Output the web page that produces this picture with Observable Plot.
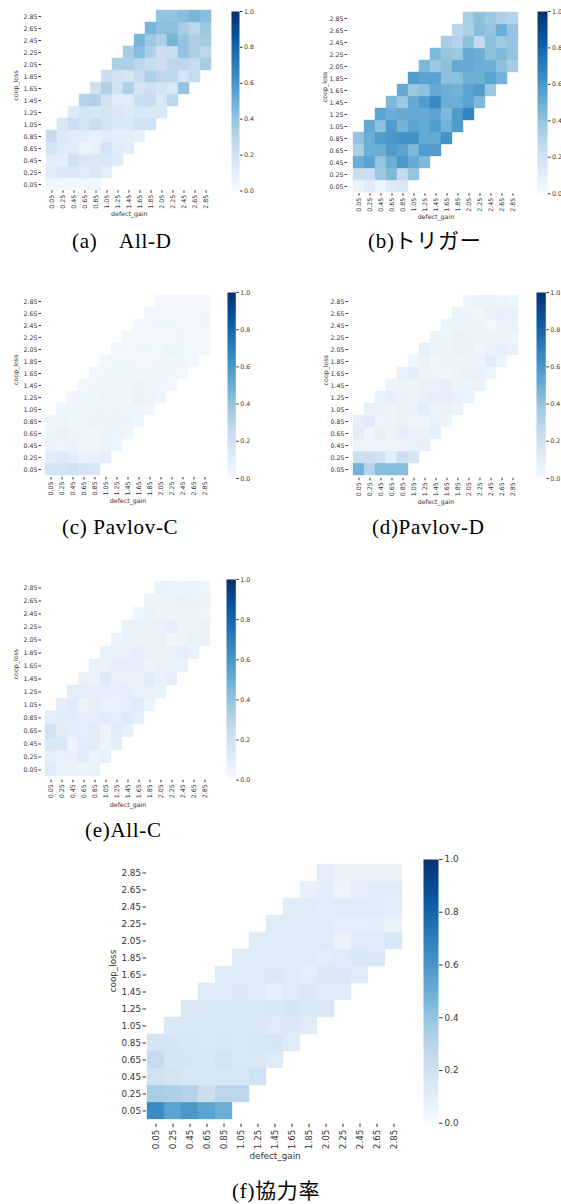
<!DOCTYPE html>
<html><head><meta charset="utf-8">
<script src="https://cdn.jsdelivr.net/npm/d3@7"></script>
<script src="https://cdn.jsdelivr.net/npm/@observablehq/plot@0.6"></script>
<style>
body{margin:0;background:#fff;}
#root{position:relative;width:561px;height:1204px;overflow:hidden;background:#fff;}
.abs{position:absolute;}
.cap{position:absolute;font-family:"Liberation Serif","Noto Sans CJK JP",serif;font-size:21px;letter-spacing:0.7px;color:#000;white-space:pre;line-height:1;}
</style></head><body><div id="root"></div>
<script>
// tick categories (defect_gain on x, coop_loss on y)
const gains  = ["0.05","0.25","0.45","0.65","0.85","1.05","1.25","1.45","1.65","1.85","2.05","2.25","2.45","2.65","2.85"];
const losses = ["0.05","0.25","0.45","0.65","0.85","1.05","1.25","1.45","1.65","1.85","2.05","2.25","2.45","2.65","2.85"];
const cbTicks = [0, 0.2, 0.4, 0.6, 0.8, 1.0];

// each row = one coop_loss value (bottom to top); values start at the first filled defect_gain column of the band
const allD = [
  [0.04,0.04,0.03,0.03,0.04],
  [0.12,0.14,0.14,0.12,0.15,0.10],
  [0.10,0.10,0.20,0.15,0.15,0.16,0.12],
  [0.18,0.13,0.12,0.06,0.08,0.18,0.12,0.10],
  [0.25,0.14,0.11,0.10,0.08,0.11,0.10,0.10,0.08],
  [0.15,0.22,0.18,0.23,0.17,0.15,0.15,0.20,0.20],
  [0.13,0.18,0.15,0.18,0.15,0.13,0.16,0.15,0.15],
  [0.30,0.32,0.20,0.12,0.12,0.22,0.25,0.15,0.28],
  [0.20,0.32,0.20,0.33,0.18,0.22,0.17,0.15,0.40],
  [0.22,0.20,0.17,0.25,0.33,0.28,0.28,0.17,0.25],
  [0.33,0.33,0.28,0.24,0.22,0.28,0.28,0.25,0.35],
  [0.35,0.43,0.33,0.22,0.22,0.40,0.33,0.28],
  [0.47,0.38,0.33,0.47,0.40,0.33,0.36],
  [0.47,0.42,0.42,0.35,0.28,0.38],
  [0.40,0.40,0.43,0.47,0.43]
];
const trigger = [
  [0.06,0.12,0.05,0.12,0.15],
  [0.22,0.22,0.38,0.45,0.25,0.40],
  [0.50,0.55,0.40,0.50,0.60,0.52,0.45],
  [0.33,0.50,0.50,0.58,0.55,0.45,0.58,0.58],
  [0.40,0.50,0.58,0.60,0.62,0.62,0.52,0.52,0.62],
  [0.52,0.42,0.58,0.48,0.55,0.52,0.58,0.48,0.58],
  [0.55,0.50,0.52,0.52,0.52,0.55,0.45,0.58,0.68],
  [0.45,0.38,0.52,0.58,0.65,0.50,0.50,0.55,0.45],
  [0.52,0.38,0.42,0.52,0.50,0.48,0.55,0.58,0.38],
  [0.58,0.55,0.55,0.42,0.42,0.50,0.50,0.55,0.48],
  [0.45,0.38,0.42,0.52,0.52,0.50,0.50,0.42,0.35],
  [0.45,0.40,0.38,0.52,0.50,0.42,0.45,0.40],
  [0.35,0.30,0.42,0.25,0.42,0.37,0.40],
  [0.28,0.33,0.43,0.40,0.50,0.40],
  [0.35,0.42,0.38,0.33,0.30]
];
const pavlovC = [
  [0.18,0.18,0.20,0.17,0.16],
  [0.11,0.13,0.10,0.07,0.08,0.09],
  [0.06,0.05,0.06,0.04,0.04,0.06,0.05],
  [0.05,0.07,0.05,0.05,0.04,0.05,0.05,0.04],
  [0.05,0.05,0.04,0.05,0.06,0.05,0.06,0.05,0.04],
  [0.04,0.04,0.04,0.05,0.05,0.05,0.05,0.05,0.04],
  [0.04,0.04,0.04,0.05,0.05,0.04,0.07,0.05,0.04],
  [0.03,0.04,0.04,0.04,0.04,0.05,0.04,0.04,0.03],
  [0.03,0.04,0.04,0.04,0.04,0.04,0.05,0.04,0.03],
  [0.03,0.04,0.04,0.03,0.03,0.04,0.04,0.04,0.03],
  [0.03,0.03,0.04,0.04,0.03,0.05,0.04,0.03,0.03],
  [0.03,0.03,0.03,0.03,0.03,0.04,0.03,0.03],
  [0.03,0.03,0.04,0.04,0.03,0.03,0.04],
  [0.03,0.03,0.03,0.03,0.03,0.04],
  [0.03,0.03,0.03,0.03,0.03]
];
const pavlovD = [
  [0.48,0.30,0.43,0.43,0.43],
  [0.22,0.22,0.19,0.10,0.22,0.17],
  [0.05,0.05,0.05,0.05,0.05,0.08,0.09],
  [0.11,0.04,0.09,0.06,0.10,0.08,0.07,0.09],
  [0.09,0.12,0.05,0.06,0.07,0.04,0.05,0.08,0.05],
  [0.07,0.07,0.06,0.07,0.07,0.11,0.06,0.07,0.06],
  [0.07,0.09,0.07,0.06,0.08,0.10,0.10,0.07,0.06],
  [0.05,0.06,0.06,0.08,0.08,0.10,0.06,0.06,0.06],
  [0.08,0.11,0.06,0.05,0.04,0.06,0.08,0.08,0.05],
  [0.04,0.07,0.04,0.06,0.05,0.06,0.06,0.12,0.06],
  [0.09,0.06,0.06,0.07,0.07,0.04,0.07,0.09,0.08],
  [0.06,0.05,0.08,0.07,0.06,0.06,0.06,0.05],
  [0.05,0.06,0.06,0.06,0.03,0.06,0.07],
  [0.06,0.05,0.03,0.07,0.09,0.08],
  [0.05,0.06,0.06,0.05,0.04]
];
const allC = [
  [0.13,0.08,0.07,0.06,0.08],
  [0.10,0.08,0.07,0.12,0.06,0.08],
  [0.15,0.15,0.06,0.12,0.12,0.06,0.10],
  [0.20,0.12,0.11,0.10,0.12,0.06,0.12,0.08],
  [0.10,0.12,0.12,0.10,0.10,0.12,0.10,0.13,0.09],
  [0.10,0.12,0.06,0.09,0.07,0.08,0.09,0.13,0.06],
  [0.10,0.10,0.09,0.10,0.09,0.10,0.08,0.08,0.07],
  [0.08,0.05,0.13,0.08,0.08,0.08,0.12,0.08,0.10],
  [0.07,0.07,0.10,0.09,0.09,0.06,0.08,0.08,0.07],
  [0.07,0.07,0.08,0.10,0.08,0.07,0.08,0.10,0.07],
  [0.06,0.07,0.07,0.07,0.08,0.04,0.06,0.08,0.07],
  [0.07,0.07,0.07,0.08,0.10,0.06,0.06,0.07],
  [0.05,0.07,0.06,0.06,0.06,0.06,0.04],
  [0.05,0.05,0.05,0.08,0.07,0.06],
  [0.07,0.06,0.05,0.06,0.05]
];
const coopRate = [
  [0.65,0.55,0.60,0.55,0.50],
  [0.35,0.33,0.30,0.22,0.28,0.28],
  [0.20,0.19,0.16,0.16,0.16,0.16,0.20],
  [0.25,0.17,0.17,0.16,0.19,0.15,0.15,0.13],
  [0.17,0.17,0.16,0.15,0.16,0.15,0.16,0.17,0.13],
  [0.15,0.15,0.15,0.15,0.15,0.15,0.13,0.14,0.12],
  [0.14,0.15,0.15,0.15,0.15,0.16,0.17,0.15,0.14],
  [0.13,0.13,0.14,0.12,0.09,0.13,0.14,0.12,0.12],
  [0.13,0.13,0.13,0.14,0.12,0.10,0.14,0.14,0.12],
  [0.12,0.13,0.12,0.12,0.12,0.11,0.13,0.16,0.14],
  [0.12,0.12,0.13,0.13,0.13,0.07,0.12,0.13,0.16],
  [0.12,0.12,0.12,0.12,0.10,0.09,0.11,0.08],
  [0.12,0.12,0.11,0.12,0.12,0.13,0.11],
  [0.08,0.11,0.05,0.10,0.12,0.12],
  [0.10,0.07,0.08,0.08,0.08]
];

const blues9 = ["#f7fbff","#deebf7","#c6dbef","#9ecae1","#6baed6","#4292c6","#2171b5","#08519c","#08306b"];
const colorScale = {type: "linear", domain: [0, 1], interpolate: d3.piecewise(d3.interpolateRgb, blues9), clamp: true};

function toCells(rows) {
  const out = [];
  rows.forEach((row, j) => {
    const start = Math.max(0, j - 4);
    row.forEach((v, k) => out.push({gain: gains[start + k], loss: losses[j], value: v}));
  });
  return out;
}

const root = document.getElementById("root");
function place(el, left, top) {
  el.style.position = "absolute"; el.style.left = left + "px"; el.style.top = top + "px";
  root.appendChild(el);
}

function heat(rows, f, o) {
  const pad = {l: o.padL, r: 4, t: 4, b: o.padB};
  const fr = {w: f.x1 - f.x0, h: f.y1 - f.y0};
  const chart = Plot.plot({
    width: fr.w + pad.l + pad.r, height: fr.h + pad.t + pad.b,
    marginLeft: pad.l, marginRight: pad.r, marginTop: pad.t, marginBottom: pad.b,
    style: {fontFamily: "DejaVu Sans", fontSize: o.fs + "px", color: "#333", background: "transparent", overflow: "visible"},
    x: {domain: gains, padding: 0, tickRotate: -90, tickSize: o.ts, tickPadding: o.tp, label: null},
    y: {domain: losses.slice().reverse(), padding: 0, tickSize: o.ts, tickPadding: o.tp, label: null},
    color: colorScale,
    marks: [
      Plot.cell(toCells(rows), {x: "gain", y: "loss", fill: "value", stroke: "value", strokeWidth: 0.4, inset: 0}),
      Plot.text(["coop_loss"], {frameAnchor: "left", dx: -o.yDx, rotate: -90, text: d => d, fontSize: o.fs, fill: "#333"}),
      o.xLab ? Plot.text(["defect_gain"], {frameAnchor: "bottom", dy: o.xDy, text: d => d, fontSize: o.fs, fill: "#333"}) : null
    ]
  });
  place(chart, f.x0 - pad.l, f.y0 - pad.t);
}

function cbar(c, o) {
  const pad = {l: 0, r: 30, t: 4, b: 4};
  const chart = Plot.plot({
    width: c.x1 - c.x0 + pad.l + pad.r, height: c.y1 - c.y0 + pad.t + pad.b,
    marginLeft: pad.l, marginRight: pad.r, marginTop: pad.t, marginBottom: pad.b,
    style: {fontFamily: "DejaVu Sans", fontSize: o.fs + "px", color: "#333", background: "transparent", overflow: "visible"},
    x: {domain: [0, 1], axis: null},
    y: {domain: [0, 1], axis: "right", ticks: cbTicks, tickFormat: d3.format(".1f"), tickSize: o.ts, tickPadding: o.tp, label: null},
    color: colorScale,
    marks: [
      Plot.raster({x1: 0, x2: 1, y1: 0, y2: 1, fill: (x, y) => y, width: 2, height: 256, imageRendering: "auto"})
    ]
  });
  place(chart, c.x0 - pad.l, c.y0 - pad.t);
}

const small = {fs: 6.3, ts: 2.5, tp: 1.5, padL: 32, padB: 34, yDx: 26, xDy: 25.5, xLab: true};
heat(allD,    {x0: 41,    x1: 216.6, y0: 9.7,   y1: 190},   small);
heat(trigger, {x0: 347.4, x1: 524.2, y0: 9.6,   y1: 192.8}, {...small, yDx: 23});
heat(pavlovC, {x0: 41,    x1: 214.1, y0: 292.2, y1: 477.2}, small);
heat(pavlovD, {x0: 347.5, x1: 522.5, y0: 292.1, y1: 477.9}, {...small, yDx: 23});
heat(allC,    {x0: 41,    x1: 214.1, y0: 578.3, y1: 780},   {...small, xDy: 27});
heat(coopRate,{x0: 146.4, x1: 403.6, y0: 860.2, y1: 1123.8}, {fs: 8.8, ts: 3.5, tp: 2, padL: 45, padB: 44, yDx: 33, xDy: 35, xLab: true});

const cbs = {fs: 6.3, ts: 2.5, tp: 2};
cbar({x0: 231,   x1: 239,   y0: 10.5,  y1: 190},   cbs);
cbar({x0: 536.7, x1: 546.7, y0: 10.5,  y1: 192.7}, cbs);
cbar({x0: 226.7, x1: 235,   y0: 291.7, y1: 477.7}, cbs);
cbar({x0: 535.7, x1: 545,   y0: 291.7, y1: 477.7}, cbs);
cbar({x0: 225.7, x1: 235,   y0: 579.3, y1: 780},   cbs);
cbar({x0: 423.3, x1: 438.3, y0: 859,   y1: 1122.7}, {fs: 8.8, ts: 3.5, tp: 2.5});

const captions = [
  ["(a)\u3000All-D", 72, 242],
  ["(b)トリガー", 368, 242],
  ["(c) Pavlov-C", 62, 528],
  ["(d)Pavlov-D", 372, 528],
  ["(e)All-C", 85, 831],
  ["(f)協力率", 232, 1192]
];
captions.forEach(([t, x, y]) => {
  const d = document.createElement("div");
  d.className = "cap"; d.textContent = t;
  place(d, x, y - 11);
});
</script></body></html>
